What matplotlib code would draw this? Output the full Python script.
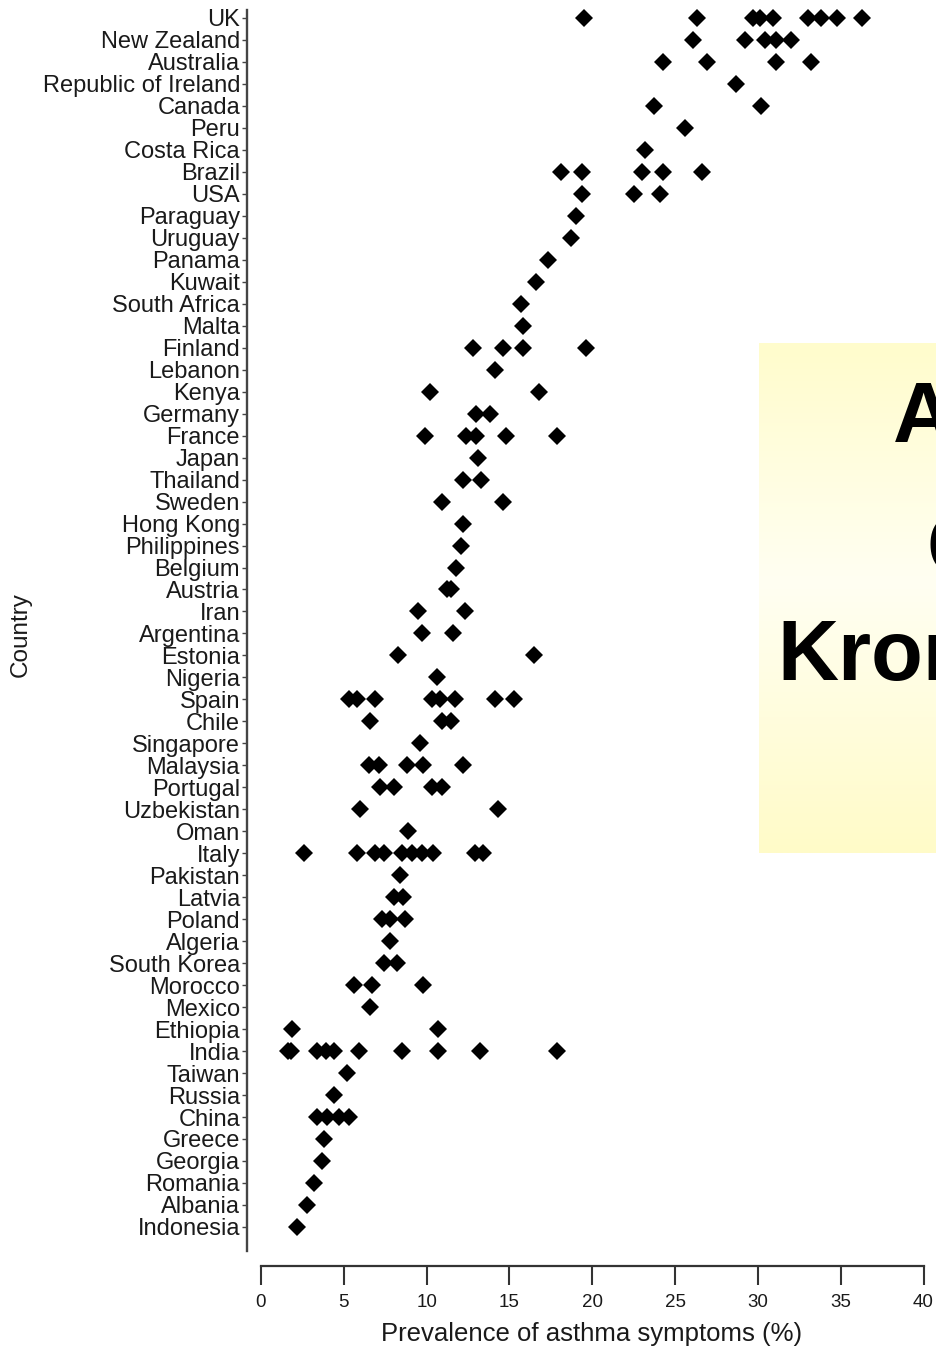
import numpy as np
import matplotlib
matplotlib.use("Agg")
import matplotlib.pyplot as plt

plt.rcParams['font.family'] = ['Liberation Sans', 'DejaVu Sans']

# countries, top to bottom
countries = [
    "UK", "New Zealand", "Australia", "Republic of Ireland", "Canada", "Peru",
    "Costa Rica", "Brazil", "USA", "Paraguay", "Uruguay", "Panama", "Kuwait",
    "South Africa", "Malta", "Finland", "Lebanon", "Kenya", "Germany", "France",
    "Japan", "Thailand", "Sweden", "Hong Kong", "Philippines", "Belgium",
    "Austria", "Iran", "Argentina", "Estonia", "Nigeria", "Spain", "Chile",
    "Singapore", "Malaysia", "Portugal", "Uzbekistan", "Oman", "Italy",
    "Pakistan", "Latvia", "Poland", "Algeria", "South Korea", "Morocco",
    "Mexico", "Ethiopia", "India", "Taiwan", "Russia", "China", "Greece",
    "Georgia", "Romania", "Albania", "Indonesia",
]

# prevalence (%) for each centre, one list per country
prevalence = [
    [19.5, 26.3, 29.7, 30.1, 30.9, 33.0, 33.8, 34.8, 36.3],   # UK
    [26.1, 29.2, 30.4, 31.1, 32.0],                           # New Zealand
    [24.3, 26.9, 31.1, 33.2],                                 # Australia
    [28.7],                                                   # Republic of Ireland
    [23.7, 30.2],                                             # Canada
    [25.6],                                                   # Peru
    [23.2],                                                   # Costa Rica
    [18.1, 19.4, 23.0, 24.3, 26.6],                           # Brazil
    [19.4, 22.5, 24.1],                                       # USA
    [19.0],                                                   # Paraguay
    [18.7],                                                   # Uruguay
    [17.3],                                                   # Panama
    [16.6],                                                   # Kuwait
    [15.7],                                                   # South Africa
    [15.8],                                                   # Malta
    [12.8, 14.6, 15.8, 19.6],                                 # Finland
    [14.1],                                                   # Lebanon
    [10.2, 16.8],                                             # Kenya
    [13.0, 13.8],                                             # Germany
    [9.9, 12.4, 13.0, 14.8, 17.9],                            # France
    [13.1],                                                   # Japan
    [12.2, 13.3],                                             # Thailand
    [10.9, 14.6],                                             # Sweden
    [12.2],                                                   # Hong Kong
    [12.1],                                                   # Philippines
    [11.8],                                                   # Belgium
    [11.2, 11.5],                                             # Austria
    [9.5, 12.3],                                              # Iran
    [9.7, 11.6],                                              # Argentina
    [8.3, 16.5],                                              # Estonia
    [10.6],                                                   # Nigeria
    [5.3, 5.8, 6.9, 10.3, 10.8, 11.7, 14.1, 15.3],            # Spain
    [6.6, 10.9, 11.5],                                        # Chile
    [9.6],                                                    # Singapore
    [6.5, 7.1, 8.8, 9.8, 12.2],                               # Malaysia
    [7.2, 8.0, 10.3, 10.9],                                   # Portugal
    [6.0, 14.3],                                              # Uzbekistan
    [8.9],                                                    # Oman
    [2.6, 5.8, 6.9, 7.4, 8.5, 9.1, 9.7, 10.4, 12.9, 13.4],    # Italy
    [8.4],                                                    # Pakistan
    [8.0, 8.6],                                               # Latvia
    [7.3, 7.8, 8.7],                                          # Poland
    [7.8],                                                    # Algeria
    [7.4, 8.2],                                               # South Korea
    [5.6, 6.7, 9.8],                                          # Morocco
    [6.6],                                                    # Mexico
    [1.9, 10.7],                                              # Ethiopia
    [1.6, 1.8, 3.4, 3.9, 4.4, 5.9, 8.5, 10.7, 13.2, 17.9],    # India
    [5.2],                                                    # Taiwan
    [4.4],                                                    # Russia
    [3.4, 4.0, 4.7, 5.3],                                     # China
    [3.8],                                                    # Greece
    [3.7],                                                    # Georgia
    [3.2],                                                    # Romania
    [2.8],                                                    # Albania
    [2.2],                                                    # Indonesia
]

xticks = [0, 5, 10, 15, 20, 25, 30, 35, 40]

W, H = 936, 1349
fig = plt.figure(figsize=(W / 100, H / 100), dpi=100)

# axes box in pixels: left 247, right 936, top 8, bottom 1266
ax = fig.add_axes([247 / W, 1 - 1266 / H, (936 - 247) / W, (1266 - 8) / H])

xs = np.concatenate([np.asarray(v, float) for v in prevalence])
ys = np.concatenate([np.full(len(v), i) for i, v in enumerate(prevalence)])
ax.plot(xs, ys, linestyle='none', marker='D', ms=9.2, mew=0, color='black')

ax.set_xlim(-14 / 16.5625, (936 - 261) / 16.5625)
ax.set_ylim((1266 - 18) / 21.98, (8 - 18) / 21.98)

ax.set_yticks(range(len(countries)))
ax.set_yticklabels(countries, fontsize=17, color='#1a1a1a')
ax.set_xticks(xticks)
ax.set_xticklabels([str(t) for t in xticks], fontsize=13.5, color='#1a1a1a')

ax.tick_params(axis='y', direction='out', length=3.5, width=1.0, pad=1.5, colors='#444')
ax.tick_params(axis='y', labelcolor='#1a1a1a')
ax.tick_params(axis='x', direction='out', length=14, width=1.5, pad=6, colors='#333')
ax.tick_params(axis='x', labelcolor='#1a1a1a')

for side in ('top', 'right'):
    ax.spines[side].set_visible(False)
ax.spines['left'].set_bounds(-0.35, 56.1)
ax.spines['left'].set_linewidth(1.7)
ax.spines['left'].set_color('#444')
ax.spines['bottom'].set_bounds(0, 40)
ax.spines['bottom'].set_linewidth(1.6)
ax.spines['bottom'].set_color('#333')

ax.set_xlabel("Prevalence of asthma symptoms (%)", fontsize=18.5, color='#1a1a1a', va='center')
ax.xaxis.set_label_coords((592 - 247) / 689, (1266 - 1334) / 1258)
ax.set_ylabel("Country", fontsize=17.5, color='#1a1a1a', va='center')
ax.yaxis.set_label_coords((21 - 247) / 689, (1266 - 635) / 1258)

# pale yellow title panel on the right
box = fig.add_axes([759 / W, 1 - 853 / H, (W - 759) / W, (853 - 343) / H])
top_c = np.array([255, 252, 204]) / 255
mid_c = np.array([255, 255, 242]) / 255
bot_c = np.array([255, 251, 200]) / 255
t = np.linspace(0, 1, 256)
grad = np.where(t[:, None] < 0.47,
                top_c + (mid_c - top_c) * (t[:, None] / 0.47),
                mid_c + (bot_c - mid_c) * ((t[:, None] - 0.47) / 0.53))
box.imshow(grad[:, None, :], aspect='auto', extent=(0, 1, 0, 1))
box.set_axis_off()

fig.text(893 / W, 1 - 442 / H, "Astım", fontsize=61, weight='bold', ha='left', va='baseline')
fig.text(926 / W, 1 - 574 / H, "Çocukluk", fontsize=61, weight='bold', ha='left', va='baseline')
fig.text(777 / W, 1 - 680 / H, "Kronik", fontsize=61, weight='bold', ha='left', va='baseline')

fig.savefig("out.png", dpi=100)
